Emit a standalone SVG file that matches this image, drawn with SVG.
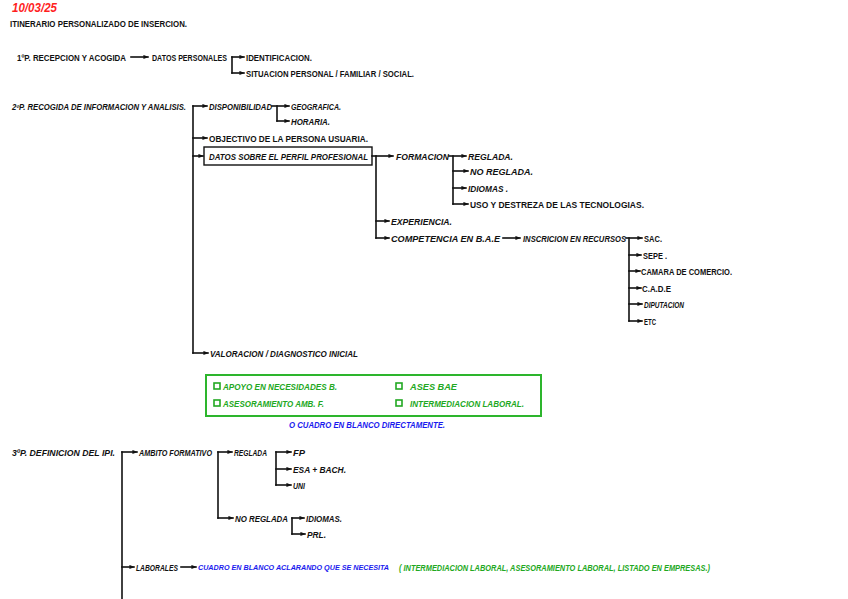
<svg xmlns="http://www.w3.org/2000/svg" width="848" height="599" viewBox="0 0 848 599">
<style>
text{font-family:"Liberation Sans",Arial,sans-serif;font-size:9.5px;font-weight:bold;fill:#111}
.i{font-style:italic}
.red{fill:#ff1f1f;font-size:12px;font-style:italic}
.grn{fill:#22a822}
.blu{fill:#1a1aee}
.s85{font-size:8.5px}
.s87{font-size:8.7px}
.s75{font-size:7.5px}
.c{fill:none;stroke:#111;stroke-width:1.6;stroke-linecap:square}
.a{marker-end:url(#ah)}
.box{fill:none;stroke:#111;stroke-width:1.4}
.gbox{fill:none;stroke:#2db52d;stroke-width:2}
.chk{fill:none;stroke:#22a822;stroke-width:1.6}
</style>
<defs>
<marker id="ah" viewBox="0 0 6 6" refX="5.5" refY="3" markerWidth="5" markerHeight="5" orient="auto" markerUnits="userSpaceOnUse"><path d="M0,0.5 L6,3 L0,5.5 z" fill="#111"/></marker>
</defs>
<rect width="848" height="599" fill="#fff"/>

<g id="date"><text class="red" x="12" y="12" textLength="45" lengthAdjust="spacingAndGlyphs">10/03/25</text></g>
<g id="title"><text x="10" y="27" textLength="177" lengthAdjust="spacingAndGlyphs">ITINERARIO PERSONALIZADO DE INSERCION.</text></g>

<g id="connectors">
<path class="c a" d="M131,57 H148"/>
<path class="c" d="M232,57 V73"/>
<path class="c a" d="M232,57 H244"/>
<path class="c a" d="M232,73 H244"/>
<path class="c" d="M193,106 V353"/>
<path class="c a" d="M193,106 H207"/>
<path class="c a" d="M193,138 H207"/>
<path class="c a" d="M193,156 H203"/>
<path class="c a" d="M193,353 H208"/>
<path class="c" d="M277,106 V121"/>
<path class="c a" d="M272,106 H289"/>
<path class="c a" d="M277,121 H289"/>
<path class="c" d="M376,156 V238"/>
<path class="c a" d="M372,156 H393"/>
<path class="c a" d="M376,221 H389"/>
<path class="c a" d="M376,238 H389"/>
<path class="c" d="M453,156 V204"/>
<path class="c a" d="M449,156 H466"/>
<path class="c a" d="M453,171 H468"/>
<path class="c a" d="M453,188 H466"/>
<path class="c a" d="M453,204 H468"/>
<path class="c a" d="M503,238 H520"/>
<path class="c" d="M629,238 V321"/>
<path class="c a" d="M626,238 H642"/>
<path class="c a" d="M629,255 H641"/>
<path class="c a" d="M629,271 H640"/>
<path class="c a" d="M629,288 H641"/>
<path class="c a" d="M629,304 H642"/>
<path class="c a" d="M629,321 H642"/>
<path class="c" d="M122,452 V599"/>
<path class="c a" d="M122,452 H137"/>
<path class="c a" d="M122,567 H134"/>
<path class="c" d="M218,452 V518"/>
<path class="c a" d="M218,452 H232"/>
<path class="c a" d="M218,518 H233"/>
<path class="c" d="M276,452 V485"/>
<path class="c a" d="M276,452 H291"/>
<path class="c a" d="M276,469 H291"/>
<path class="c a" d="M276,485 H291"/>
<path class="c" d="M292,518 V534"/>
<path class="c a" d="M292,518 H304"/>
<path class="c a" d="M292,534 H305"/>
<path class="c a" d="M181,567 H196"/>
</g>

<g id="p1"><text x="17" y="60.5" textLength="109" lengthAdjust="spacingAndGlyphs">1ºP. RECEPCION Y ACOGIDA</text></g>
<g id="datos-personales"><text x="152" y="60.5" textLength="75" lengthAdjust="spacingAndGlyphs">DATOS PERSONALES</text></g>
<g id="identificacion"><text x="246" y="60.5" textLength="66" lengthAdjust="spacingAndGlyphs">IDENTIFICACION.</text></g>
<g id="situacion"><text x="246" y="76.5" textLength="168" lengthAdjust="spacingAndGlyphs">SITUACION PERSONAL / FAMILIAR / SOCIAL.</text></g>

<g id="p2"><text class="i s85" x="12" y="109.5" textLength="174" lengthAdjust="spacingAndGlyphs">2ºP. RECOGIDA DE INFORMACION Y ANALISIS.</text></g>
<g id="disponibilidad"><text class="i" x="209" y="109.5" textLength="63" lengthAdjust="spacingAndGlyphs">DISPONIBILIDAD</text></g>
<g id="geografica"><text class="i" x="291" y="109.5" textLength="50" lengthAdjust="spacingAndGlyphs">GEOGRAFICA.</text></g>
<g id="horaria"><text class="i" x="291" y="124.5" textLength="39" lengthAdjust="spacingAndGlyphs">HORARIA.</text></g>
<g id="objectivo"><text x="209" y="141.5" textLength="159" lengthAdjust="spacingAndGlyphs">OBJECTIVO DE LA PERSONA USUARIA.</text></g>
<g id="datos-perfil"><rect class="box" x="204" y="147" width="168" height="18"/><text class="i" x="209" y="159.5" textLength="159" lengthAdjust="spacingAndGlyphs">DATOS SOBRE EL PERFIL PROFESIONAL</text></g>
<g id="formacion"><text class="i" x="396" y="159.5" textLength="53" lengthAdjust="spacingAndGlyphs">FORMACION</text></g>
<g id="reglada"><text class="i" x="468" y="159.5" textLength="45" lengthAdjust="spacingAndGlyphs">REGLADA.</text></g>
<g id="no-reglada"><text class="i" x="470" y="174.5" textLength="63" lengthAdjust="spacingAndGlyphs">NO REGLADA.</text></g>
<g id="idiomas"><text class="i" x="468" y="191.5" textLength="40" lengthAdjust="spacingAndGlyphs">IDIOMAS .</text></g>
<g id="uso"><text x="470" y="207.5" textLength="174" lengthAdjust="spacingAndGlyphs">USO Y DESTREZA DE LAS TECNOLOGIAS.</text></g>
<g id="experiencia"><text class="i" x="391" y="224.5" textLength="61" lengthAdjust="spacingAndGlyphs">EXPERIENCIA.</text></g>
<g id="competencia"><text class="i" x="391" y="241.5" textLength="109" lengthAdjust="spacingAndGlyphs">COMPETENCIA EN B.A.E</text></g>
<g id="inscricion"><text class="i s87" x="523" y="241.5" textLength="103" lengthAdjust="spacingAndGlyphs">INSCRICION EN RECURSOS</text></g>
<g id="sac"><text x="644" y="241.5" textLength="18" lengthAdjust="spacingAndGlyphs">SAC.</text></g>
<g id="sepe"><text x="643" y="258.5" textLength="24" lengthAdjust="spacingAndGlyphs">SEPE .</text></g>
<g id="camara"><text x="641" y="274.5" textLength="91" lengthAdjust="spacingAndGlyphs">CAMARA DE COMERCIO.</text></g>
<g id="cade"><text x="642" y="291.5" textLength="29" lengthAdjust="spacingAndGlyphs">C.A.D.E</text></g>
<g id="diputacion"><text class="i" x="644" y="307.5" textLength="40" lengthAdjust="spacingAndGlyphs">DIPUTACION</text></g>
<g id="etc"><text x="644" y="324.5" textLength="12" lengthAdjust="spacingAndGlyphs">ETC</text></g>
<g id="valoracion"><text class="i" x="210" y="356.5" textLength="148" lengthAdjust="spacingAndGlyphs">VALORACION / DIAGNOSTICO INICIAL</text></g>

<g id="green-box">
<rect class="gbox" x="206" y="375" width="335" height="41"/>
<rect class="chk" x="214" y="383" width="6" height="6"/>
<text class="grn i" x="223" y="389.5" textLength="114" lengthAdjust="spacingAndGlyphs">APOYO EN NECESIDADES B.</text>
<rect class="chk" x="214" y="400" width="6" height="6"/>
<text class="grn i" x="223" y="406.5" textLength="101" lengthAdjust="spacingAndGlyphs">ASESORAMIENTO AMB. F.</text>
<rect class="chk" x="396" y="383" width="6" height="6"/>
<text class="grn i" x="410" y="389.5" textLength="47" lengthAdjust="spacingAndGlyphs">ASES BAE</text>
<rect class="chk" x="396" y="400" width="6" height="6"/>
<text class="grn i" x="410" y="406.5" textLength="114" lengthAdjust="spacingAndGlyphs">INTERMEDIACION LABORAL.</text>
</g>
<g id="cuadro-blanco"><text class="blu i" x="289" y="427.5" textLength="156" lengthAdjust="spacingAndGlyphs">O CUADRO EN BLANCO DIRECTAMENTE.</text></g>

<g id="p3"><text class="i" x="12" y="455.5" textLength="103" lengthAdjust="spacingAndGlyphs">3ºP. DEFINICION DEL IPI.</text></g>
<g id="ambito"><text class="i" x="139" y="455.5" textLength="73" lengthAdjust="spacingAndGlyphs">AMBITO FORMATIVO</text></g>
<g id="reglada3"><text class="i" x="234" y="455.5" textLength="33" lengthAdjust="spacingAndGlyphs">REGLADA</text></g>
<g id="fp"><text class="i" x="293" y="455.5" textLength="12" lengthAdjust="spacingAndGlyphs">FP</text></g>
<g id="esa"><text class="i" x="293" y="472.5" textLength="53" lengthAdjust="spacingAndGlyphs">ESA + BACH.</text></g>
<g id="uni"><text class="i" x="293" y="488.5" textLength="12" lengthAdjust="spacingAndGlyphs">UNI</text></g>
<g id="no-reglada3"><text class="i" x="235" y="521.5" textLength="53" lengthAdjust="spacingAndGlyphs">NO REGLADA</text></g>
<g id="idiomas3"><text class="i" x="306" y="521.5" textLength="36" lengthAdjust="spacingAndGlyphs">IDIOMAS.</text></g>
<g id="prl"><text class="i" x="307" y="537.5" textLength="19" lengthAdjust="spacingAndGlyphs">PRL.</text></g>
<g id="laborales"><text class="i" x="136" y="570.5" textLength="42" lengthAdjust="spacingAndGlyphs">LABORALES</text></g>
<g id="cuadro-laborales"><text class="blu i s75" x="198" y="570" textLength="191" lengthAdjust="spacingAndGlyphs">CUADRO EN BLANCO ACLARANDO QUE SE NECESITA</text></g>
<g id="listado"><text class="grn i" x="399" y="570.5" textLength="311" lengthAdjust="spacingAndGlyphs">( INTERMEDIACION LABORAL, ASESORAMIENTO LABORAL, LISTADO EN EMPRESAS.)</text></g>
</svg>
